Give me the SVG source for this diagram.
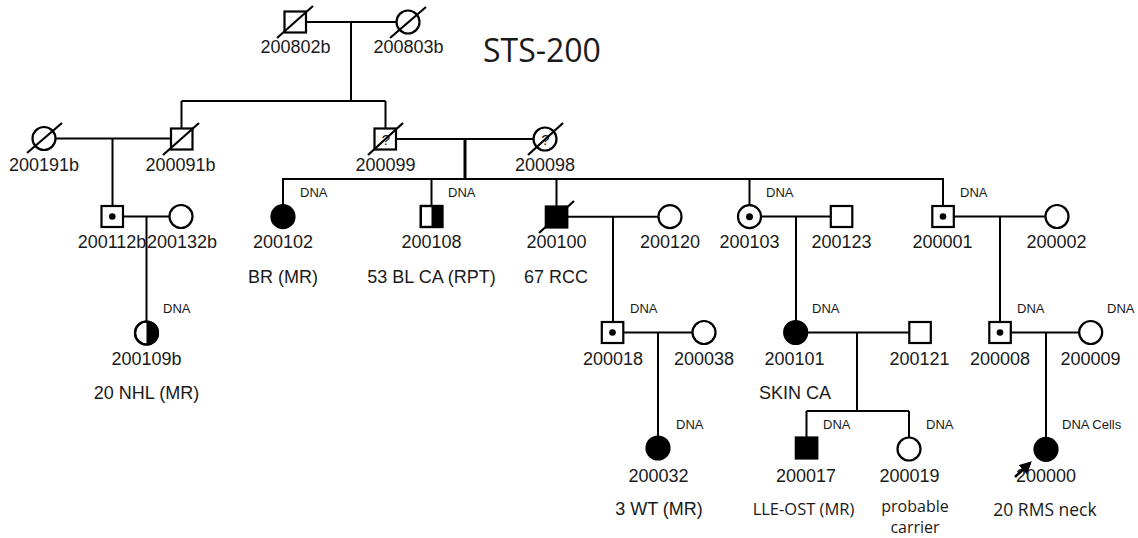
<svg xmlns="http://www.w3.org/2000/svg" width="1138" height="538" viewBox="0 0 1138 538">
<style>
.ln{stroke:#000;stroke-width:2;fill:none}
.thk{stroke:#000;stroke-width:3;fill:none}
.sym{stroke:#000;stroke-width:2.2;fill:#fff}
.fil{stroke:#000;stroke-width:2.2;fill:#000}
.sl{stroke:#000;stroke-width:2.2}
.dot{fill:#000}
.hf{fill:#000;stroke:none}
text{font-family:"Liberation Sans",Arial,sans-serif;fill:#1a1a1a;text-anchor:middle}
.id{font-size:18px}
.dx{font-size:18px}
.dna{font-size:13px;text-anchor:start}
.cal{font-family:"Open Sans","Liberation Sans",sans-serif}
.q{font-size:15px}
</style>
<defs>
<marker id="ah" viewBox="0 0 10 10" refX="8" refY="5" markerWidth="5" markerHeight="5" orient="auto">
<path d="M0,0 L10,5 L0,10 Z" fill="#000"/>
</marker>
</defs>
<rect width="1138" height="538" fill="#fff"/>
<text x="483" y="62" class="cal" style="font-size:32px;text-anchor:start">STS-200</text>
<g id="connectors">
<line class="ln" x1="306" y1="22" x2="396.5" y2="22"/>
<line class="ln" x1="351" y1="22" x2="351" y2="101"/>
<line class="ln" x1="181.5" y1="101" x2="385.5" y2="101"/>
<line class="ln" x1="181.5" y1="101" x2="181.5" y2="128"/>
<line class="ln" x1="385.5" y1="101" x2="385.5" y2="128"/>
<line class="ln" x1="55.5" y1="138.5" x2="170.5" y2="138.5"/>
<line class="ln" x1="112.5" y1="138.5" x2="112.5" y2="205.5"/>
<line class="ln" x1="123" y1="216.5" x2="169.5" y2="216.5"/>
<line class="ln" x1="146.5" y1="216.5" x2="146.5" y2="321"/>
<line class="ln" x1="396.5" y1="139" x2="533.5" y2="139"/>
<line class="thk" x1="465" y1="139" x2="465" y2="179"/>
<line class="ln" x1="282" y1="179" x2="944" y2="179"/>
<line class="ln" x1="283" y1="179" x2="283" y2="205"/>
<line class="ln" x1="431.5" y1="179" x2="431.5" y2="205.5"/>
<line class="ln" x1="556.5" y1="179" x2="556.5" y2="206"/>
<line class="ln" x1="749.5" y1="179" x2="749.5" y2="205"/>
<line class="ln" x1="943" y1="179" x2="943" y2="205.5"/>
<line class="ln" x1="567.5" y1="216.7" x2="658.5" y2="216.7"/>
<line class="ln" x1="613" y1="216.7" x2="613" y2="321.5"/>
<line class="ln" x1="761" y1="216.5" x2="830.5" y2="216.5"/>
<line class="ln" x1="796" y1="216.5" x2="796" y2="321"/>
<line class="ln" x1="954" y1="216.5" x2="1045.5" y2="216.5"/>
<line class="ln" x1="1000" y1="216.5" x2="1000" y2="321.5"/>
<line class="ln" x1="623.5" y1="332.5" x2="692.5" y2="332.5"/>
<line class="ln" x1="658" y1="332.5" x2="658" y2="436"/>
<line class="ln" x1="807" y1="332.5" x2="909" y2="332.5"/>
<line class="ln" x1="857" y1="332.5" x2="857" y2="411"/>
<line class="ln" x1="806.5" y1="411" x2="909" y2="411"/>
<line class="ln" x1="806.5" y1="411" x2="806.5" y2="437"/>
<line class="ln" x1="909" y1="411" x2="909" y2="437.5"/>
<line class="ln" x1="1011" y1="332.5" x2="1079" y2="332.5"/>
<line class="ln" x1="1046" y1="332.5" x2="1046" y2="437.5"/>
</g>
<g id="n200802b">
<rect class="sym" x="284.5" y="11.5" width="21.5" height="21"/>
<line class="sl" x1="277" y1="38" x2="313" y2="6"/>
<text class="id" x="295.5" y="53">200802b</text>
</g>
<g id="n200803b">
<circle class="sym" cx="408" cy="22" r="11.5"/>
<line class="sl" x1="390" y1="38" x2="426" y2="7"/>
<text class="id" x="408.5" y="53">200803b</text>
</g>
<g id="n200191b">
<circle class="sym" cx="44" cy="138.5" r="11.5"/>
<line class="sl" x1="27" y1="153" x2="62" y2="123"/>
<text class="id" x="44" y="171">200191b</text>
</g>
<g id="n200091b">
<rect class="sym" x="171" y="128.5" width="21.5" height="21"/>
<line class="sl" x1="163" y1="155" x2="199" y2="123"/>
<text class="id" x="180.5" y="171">200091b</text>
</g>
<g id="n200099">
<rect class="sym" x="374.5" y="128.5" width="21.5" height="21"/>
<text class="q" x="386" y="145">?</text>
<line class="sl" x1="368" y1="155" x2="403" y2="123"/>
<text class="id" x="385.5" y="171">200099</text>
</g>
<g id="n200098">
<circle class="sym" cx="545" cy="139" r="11.5"/>
<text class="q" x="545.5" y="145">?</text>
<line class="sl" x1="528" y1="155" x2="563" y2="123"/>
<text class="id" x="545" y="171">200098</text>
</g>
<g id="n200112b">
<rect class="sym" x="101.5" y="206" width="21.5" height="21"/>
<circle class="dot" cx="112.3" cy="216.5" r="3.3"/>
<text class="id" x="112" y="248">200112b</text>
</g>
<g id="n200132b">
<circle class="sym" cx="181" cy="216.5" r="11.5"/>
<text class="id" x="182" y="248">200132b</text>
</g>
<g id="n200109b">
<circle class="sym" cx="146.5" cy="333" r="11.5"/>
<path class="hf" d="M146.5,321.5 A11.5,11.5 0 0 1 146.5,344.5 Z"/>
<circle cx="146.5" cy="333" r="11.5" fill="none" stroke="#000" stroke-width="2.2"/>
<text class="dna" x="163" y="313">DNA</text>
<text class="id" x="146.5" y="365">200109b</text>
<text class="dx" x="146.5" y="399">20 NHL (MR)</text>
</g>
<g id="n200102">
<circle class="fil" cx="283" cy="216.7" r="11.5"/>
<text class="dna" x="300" y="197">DNA</text>
<text class="id" x="283" y="248">200102</text>
<text class="dx" x="283" y="283">BR (MR)</text>
</g>
<g id="n200108">
<rect class="sym" x="420.8" y="206" width="21.5" height="21"/>
<rect class="hf" x="431.5" y="206" width="10.8" height="21"/>
<rect x="420.8" y="206" width="21.5" height="21" fill="none" stroke="#000" stroke-width="2.2"/>
<text class="dna" x="448" y="197">DNA</text>
<text class="id" x="431.5" y="248">200108</text>
<text class="dx" x="431.5" y="283">53 BL CA (RPT)</text>
</g>
<g id="n200100">
<rect class="fil" x="545.8" y="206.5" width="21.5" height="21"/>
<line class="sl" x1="539" y1="233" x2="574" y2="201"/>
<text class="id" x="556.5" y="248">200100</text>
<text class="dx" x="556" y="283">67 RCC</text>
</g>
<g id="n200120">
<circle class="sym" cx="670" cy="216.7" r="11.5"/>
<text class="id" x="670" y="248">200120</text>
</g>
<g id="n200103">
<circle class="sym" cx="749.5" cy="216.7" r="11.5"/>
<circle class="dot" cx="749.5" cy="216.7" r="3.5"/>
<text class="dna" x="766" y="197">DNA</text>
<text class="id" x="749.5" y="248">200103</text>
</g>
<g id="n200123">
<rect class="sym" x="830.8" y="206" width="21.5" height="21"/>
<text class="id" x="841.5" y="248">200123</text>
</g>
<g id="n200001">
<rect class="sym" x="932.3" y="206" width="21.5" height="21"/>
<circle class="dot" cx="943" cy="216.5" r="3.3"/>
<text class="dna" x="960" y="197">DNA</text>
<text class="id" x="942.5" y="248">200001</text>
</g>
<g id="n200002">
<circle class="sym" cx="1057" cy="216.5" r="11.5"/>
<text class="id" x="1056.5" y="248">200002</text>
</g>
<g id="n200018">
<rect class="sym" x="601.8" y="322" width="21.5" height="21"/>
<circle class="dot" cx="612.5" cy="332.5" r="3.3"/>
<text class="dna" x="630" y="313">DNA</text>
<text class="id" x="613" y="365">200018</text>
</g>
<g id="n200038">
<circle class="sym" cx="704" cy="332.5" r="11.5"/>
<text class="id" x="704" y="365">200038</text>
</g>
<g id="n200032">
<circle class="fil" cx="658" cy="448" r="11.5"/>
<text class="dna" x="676" y="429">DNA</text>
<text class="id" x="658.5" y="482">200032</text>
<text class="dx" x="659" y="515">3 WT (MR)</text>
</g>
<g id="n200101">
<circle class="fil" cx="795.7" cy="332.5" r="11.5"/>
<text class="dna" x="812" y="313">DNA</text>
<text class="id" x="794.5" y="365">200101</text>
<text class="dx" x="795" y="399">SKIN CA</text>
</g>
<g id="n200121">
<rect class="sym" x="909.3" y="322" width="21.5" height="21"/>
<text class="id" x="919.5" y="365">200121</text>
</g>
<g id="n200017">
<rect class="fil" x="795.8" y="437.5" width="21.5" height="21"/>
<text class="dna" x="823" y="429">DNA</text>
<text class="id" x="806" y="482">200017</text>
<text class="dx cal" x="803.5" y="515" style="font-size:16.5px">LLE-OST (MR)</text>
</g>
<g id="n200019">
<circle class="sym" cx="909" cy="449" r="11.5"/>
<text class="dna" x="926" y="429">DNA</text>
<text class="id" x="909.5" y="482">200019</text>
<text class="cal" x="915" y="512" style="font-size:16px">probable</text>
<text class="cal" x="915" y="533" style="font-size:16px">carrier</text>
</g>
<g id="n200008">
<rect class="sym" x="989.3" y="322" width="21.5" height="21"/>
<circle class="dot" cx="1000" cy="332.5" r="3.3"/>
<text class="dna" x="1017" y="313">DNA</text>
<text class="id" x="1000" y="365">200008</text>
</g>
<g id="n200009">
<circle class="sym" cx="1090.7" cy="332.5" r="11.5"/>
<text class="dna" x="1107" y="313">DNA</text>
<text class="id" x="1090.5" y="365">200009</text>
</g>
<g id="n200000">
<circle class="fil" cx="1046" cy="449.3" r="11.5"/>
<text class="dna" x="1062" y="429">DNA Cells</text>
<text class="id" x="1046" y="482">200000</text>
<line x1="1015" y1="477" x2="1030" y2="463" stroke="#000" stroke-width="2.5" marker-end="url(#ah)"/>
<text class="cal" x="1045" y="516" style="font-size:17.5px">20 RMS neck</text>
</g>
</svg>
